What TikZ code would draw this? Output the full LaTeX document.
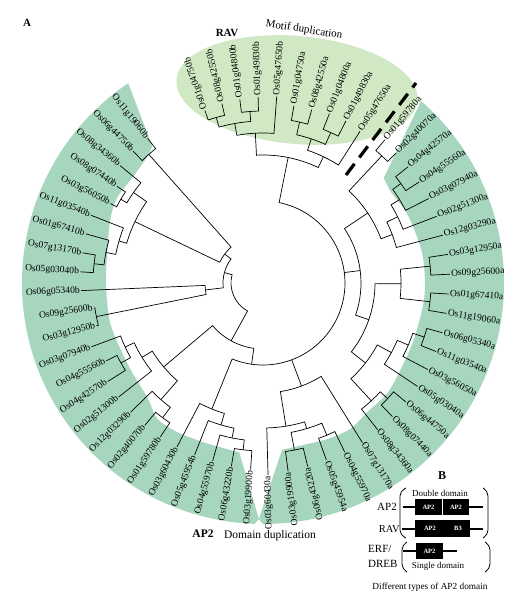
\documentclass[tikz,border=0pt]{standalone}
\usepackage{fontspec}
\setmainfont{Liberation Serif}
\definecolor{bandc}{RGB}{166,214,190}
\definecolor{ravc}{RGB}{208,233,196}
\newcommand\Ang[1]{\csname TA#1\endcsname}
\newcommand\Lf[4]{%
  \expandafter\xdef\csname TA#1\endcsname{#2}%
  \coordinate (#1) at (#2:#3);
  \pgfmathsetmacro\na{mod(#2+720,360)}%
  \pgfmathtruncatemacro\flip{and(\na>115,\na<286)}%
  \ifnum\flip=1
    \pgfmathsetmacro\rr{#2-180}%
    \node[lab,anchor=east,rotate=\rr] (#1t) at (#1) {#4};
  \else
    \node[lab,anchor=west,rotate=#2] (#1t) at (#1) {#4};
  \fi}
\newcommand\Jn[4]{%
  \pgfmathsetmacro\ja{\Ang{#3}}%
  \pgfmathsetmacro\jb{\Ang{#4}}%
  \pgfmathsetmacro\jm{(\ja+\jb)/2}%
  \expandafter\xdef\csname TA#1\endcsname{\jm}%
  \draw[br] (#3) -- (\ja:#2) arc[start angle=\ja, end angle=\jb, radius=#2pt] -- (#4);
  \coordinate (#1) at (\jm:#2);}
\begin{document}
\begin{tikzpicture}[x=1pt,y=1pt,
  br/.style={line width=0.7pt},
  lab/.style={font=\fontsize{9.6}{10}\selectfont, inner sep=1.2pt},
  ttl/.style={font=\fontsize{11}{12}\selectfont},
  boxt/.style={font=\fontsize{6.5}{7}\selectfont\bfseries, text=white},
  dline/.style={line width=2pt}]
\useasboundingbox (0,0) rectangle (532,598);
\fill[white] (0,0) rectangle (532,598);
% RAV ellipse
\fill[ravc, rotate around={-5:(297,508)}] (297,508) ellipse [x radius=121pt, y radius=54pt];
\begin{scope}[shift={(263,315)}]
% green band
\fill[bandc] (129:176) -- (124:241) arc[start angle=124, end angle=268, radius=241pt] -- (269:236) -- (262:171)
  -- plot[smooth] coordinates {(262:171) (250:170) (240:172) (232:172) (225:163) (212:158) (195:158) (180:157) (168:159) (158:165) (150:169) (140:168) (133:171) (129:176)} -- cycle;
\fill[bandc] (269:236) -- (270:241) arc[start angle=270, end angle=409, radius=241pt] -- (41:160)
  -- plot[smooth] coordinates {(41:160) (35:157) (25:160) (10:162) (-5:162) (-20:161) (-30:162) (-41:166) (-51:166) (-59:170) (-67:169) (-75:167) (-83.5:168)} -- cycle;
% leaves: left (b)
\Lf{i0}{128.6}{185}{Os11g19060b}
\Lf{i1}{134.6}{185}{Os06g44750b}
\Lf{i2}{140.6}{185}{Os08g34360b}
\Lf{i3}{146.5}{175}{Os08g07440b}
\Lf{i4}{152.5}{172}{Os03g56050b}
\Lf{i5}{158.5}{185}{Os11g03540b}
\Lf{i6}{164.5}{184}{Os01g67410b}
\Lf{i7}{170.5}{183}{Os07g13170b}
\Lf{i8}{176.5}{183}{Os05g03040b}
\Lf{i9}{182.4}{182}{Os06g05340b}
\Lf{i10}{188.4}{171}{Os09g25600b}
\Lf{i11}{194.4}{172}{Os03g12950b}
\Lf{i12}{200.4}{183}{Os03g07940b}
\Lf{i13}{206.4}{175}{Os04g55560b}
\Lf{i14}{212.4}{184}{Os04g42570b}
\Lf{i15}{218.3}{184}{Os02g51300b}
\Lf{i16}{224.3}{185}{Os12g03290b}
\Lf{i17}{230.3}{185}{Os02g40070b}
\Lf{i18}{236.3}{185}{Os01g59780b}
\Lf{i19}{242.3}{185}{Os03g60430b}
\Lf{i20}{248.3}{185}{Os05g45954b}
\Lf{i21}{254.2}{185}{Os04g55970b}
\Lf{i22}{260.2}{186}{Os06g43220b}
\Lf{i23}{266.2}{187}{Os03g19900b}
% leaves: right (a)
\Lf{j0}{49.6}{188}{Os01g59780a}
\Lf{j1}{44.3}{186}{Os02g40070a}
\Lf{j2}{38.7}{186}{Os04g42570a}
\Lf{j3}{32.9}{186}{Os04g55560a}
\Lf{j4}{27.0}{186}{Os03g07940a}
\Lf{j5}{21.0}{186}{Os02g51300a}
\Lf{j6}{14.9}{186}{Os12g03290a}
\Lf{j7}{8.8}{187}{Os03g12950a}
\Lf{j8}{2.7}{187}{Os09g25600a}
\Lf{j9}{-3.4}{186}{Os01g67410a}
\Lf{j10}{-9.4}{186}{Os11g19060a}
\Lf{j11}{-15.5}{186}{Os06g05340a}
\Lf{j12}{-21.6}{186}{Os11g03540a}
\Lf{j13}{-27.7}{186}{Os03g56050a}
\Lf{j14}{-33.8}{186}{Os05g03040a}
\Lf{j15}{-39.8}{186}{Os06g44750a}
\Lf{j16}{-45.9}{186}{Os08g07440a}
\Lf{j17}{-52.0}{186}{Os08g34360a}
\Lf{j18}{-58.1}{188}{Os07g13170a}
\Lf{j19}{-64.2}{188}{Os04g55970a}
\Lf{j20}{-70.3}{188}{Os05g45954a}
\Lf{j21}{-76.3}{189}{Os06g43220a}
\Lf{j22}{-82.4}{190}{Os03g19900a}
\Lf{j23}{-88.5}{192}{Os03g60430a}
% leaves: RAV
\Lf{k0}{108.6}{182}{Os01g04750b}
\Lf{k1}{102.9}{184}{Os08g42550b}
\Lf{k2}{97.2}{185}{Os01g04800b}
\Lf{k3}{91.5}{186}{Os01g49830b}
\Lf{k4}{85.8}{187}{Os05g47650b}
\Lf{k5}{80.1}{180}{Os01g04750a}
\Lf{k6}{74.3}{180}{Os08g42550a}
\Lf{k7}{68.6}{182}{Os01g04800a}
\Lf{k8}{62.9}{182}{Os01g49830a}
\Lf{k9}{57.4}{180}{Os05g47650a}
% internal nodes: left
\Jn{A1}{172}{i0}{i1}
\Jn{B1}{165}{i3}{i4}
\Jn{B2}{158}{i2}{B1}
\Jn{C1}{170}{i7}{i8}
\Jn{C2}{160}{i6}{C1}
\Jn{C3}{150}{i5}{C2}
\Jn{D}{142}{B2}{C3}
\Jn{E}{48}{A1}{D}
\Jn{F}{170}{i10}{i11}
\Jn{F2}{58}{i9}{F}
\Jn{G1}{163}{i13}{i14}
\Jn{G2}{152}{i12}{G1}
\Jn{G3}{142}{G2}{i15}
\Jn{G4}{168}{i17}{i18}
\Jn{G5}{155}{i16}{G4}
\Jn{G6}{130}{G3}{G5}
\Jn{H1}{168}{i22}{i23}
\Jn{H2}{158}{i21}{H1}
\Jn{H3}{148}{i20}{H2}
\Jn{H4}{136}{i19}{H3}
% internal nodes: right
\Jn{P1}{174}{j0}{j1}
\Jn{P2}{170}{j2}{j3}
\Jn{P3}{160}{P2}{j4}
\Jn{P4}{150}{P3}{j5}
\Jn{P5}{138}{P4}{j6}
\Jn{P6}{126}{P1}{P5}
\Jn{Q1}{168}{j7}{j8}
\Jn{Q2}{168}{j9}{j10}
\Jn{Q3}{138}{Q1}{Q2}
\Jn{R1}{170}{j11}{j12}
\Jn{R2}{158}{R1}{j13}
\Jn{R3}{146}{R2}{j14}
\Jn{S1}{170}{j15}{j16}
\Jn{S2}{160}{S1}{j17}
\Jn{S3}{130}{R3}{S2}
\Jn{V1}{112}{Q3}{S3}
\Jn{RA}{98}{P6}{V1}
\Jn{T1}{170}{j21}{j22}
\Jn{T2}{165}{j19}{j20}
\Jn{T3}{152}{T2}{T1}
\Jn{T4}{145}{T3}{j23}
\Jn{U}{110}{j18}{T4}
% internal nodes: RAV
\Jn{W1}{172}{k0}{k1}
\Jn{W2}{172}{k2}{k3}
\Jn{W3}{162}{W1}{W2}
\Jn{W4}{150}{W3}{k4}
\Jn{W5}{165}{k5}{k6}
\Jn{W6}{165}{k7}{k8}
\Jn{W7}{152}{W5}{W6}
\Jn{W8}{140}{W7}{k9}
\Jn{RAVc}{128}{W4}{W8}
% deep nodes
\pgfmathsetmacro\aH{\Ang{H4}-360}
\pgfmathsetmacro\aR{\Ang{RAVc}}
\draw[br] (H4) -- (\aH:82) arc[start angle=\aH, end angle=\aR, radius=82pt] -- (RAVc);
\pgfmathsetmacro\aU{\Ang{U}}
\draw[br] (U) -- (\aU:82);
\pgfmathsetmacro\aA{\Ang{RA}}
\draw[br] (RA) -- (\aA:82);
\expandafter\xdef\csname TABIG\endcsname{262}
\coordinate (BIG) at (262:82);
\Jn{N66}{66}{G6}{BIG}
\Jn{L1}{40}{E}{F2}
\Jn{ROOT}{32}{L1}{N66}
\end{scope}
% dashed separator
\coordinate (dsA) at (346,423);
\coordinate (dsB) at (416,515);
\draw[line width=3.2pt, dash pattern=on 14pt off 8pt] (dsA) -- (dsB);
% titles
\node[font=\fontsize{11}{12}\selectfont\bfseries] (lA) at (27,575) {A};
\node[font=\fontsize{11}{12}\selectfont\bfseries] (lRAV) at (227,565) {RAV};
\node[ttl, rotate=-9] (lMotif) at (304,568) {Motif duplication};
\node[font=\fontsize{11.5}{12}\selectfont\bfseries] (lAP2) at (203,64) {AP2};
\node[font=\fontsize{11.5}{12}\selectfont] (lDom) at (270,62) {Domain duplication};
% panel B
\node[font=\fontsize{12}{13}\selectfont\bfseries] (lB) at (442,122) {B};
\draw[line width=0.8pt, rounded corners=5pt] (406,110) -- (400,107) -- (400,63) -- (406,60);
\draw[line width=0.8pt, rounded corners=5pt] (483,110) -- (488,107) -- (488,63) -- (483,60);
\draw[line width=0.8pt, rounded corners=5pt] (407,56) -- (402,53) -- (402,29) -- (407,26);
\draw[line width=0.8pt, rounded corners=5pt] (485,56) -- (490,53) -- (490,29) -- (485,26);
\node[font=\fontsize{9}{10}\selectfont] (tDouble) at (440,105) {Double domain};
\node[font=\fontsize{9}{10}\selectfont] (tSingle) at (438,32) {Single domain};
\node[font=\fontsize{11}{12}\selectfont, anchor=east, inner sep=0pt] (tAP2) at (397,91) {AP2};
\node[font=\fontsize{10.5}{12}\selectfont, anchor=east, inner sep=0pt] (tRAV) at (400,69) {RAV};
\node[font=\fontsize{11}{12}\selectfont, anchor=west, inner sep=0pt] (tERF) at (368,49) {ERF/};
\node[font=\fontsize{11}{12}\selectfont, anchor=west, inner sep=0pt] (tDREB) at (368,34) {DREB};
\node[font=\fontsize{9.3}{10}\selectfont] (tDiff) at (430,11) {Different types of AP2 domain};
% domain boxes
\fill[black] (415,83) rectangle (442,99);
\fill[black] (443,83) rectangle (469,99);
\node[boxt] (b1) at (428.5,91) {AP2};
\node[boxt] (b2) at (456,91) {AP2};
\draw[dline] (403,91) -- (415,91);
\draw[dline] (469,91) -- (483,91);
\fill[black] (415,61) rectangle (470,78);
\node[boxt] (b3) at (430,69.5) {AP2};
\node[boxt] (b4) at (458,69.5) {B3};
\draw[dline] (402,69) -- (415,69);
\draw[dline] (470,69) -- (483,69);
\fill[black] (416,39) rectangle (443,55);
\node[boxt] (b5) at (429.5,47) {AP2};
\draw[dline] (403,47) -- (416,47);
\draw[dline] (443,47) -- (457,47);
\end{tikzpicture}
\end{document}
